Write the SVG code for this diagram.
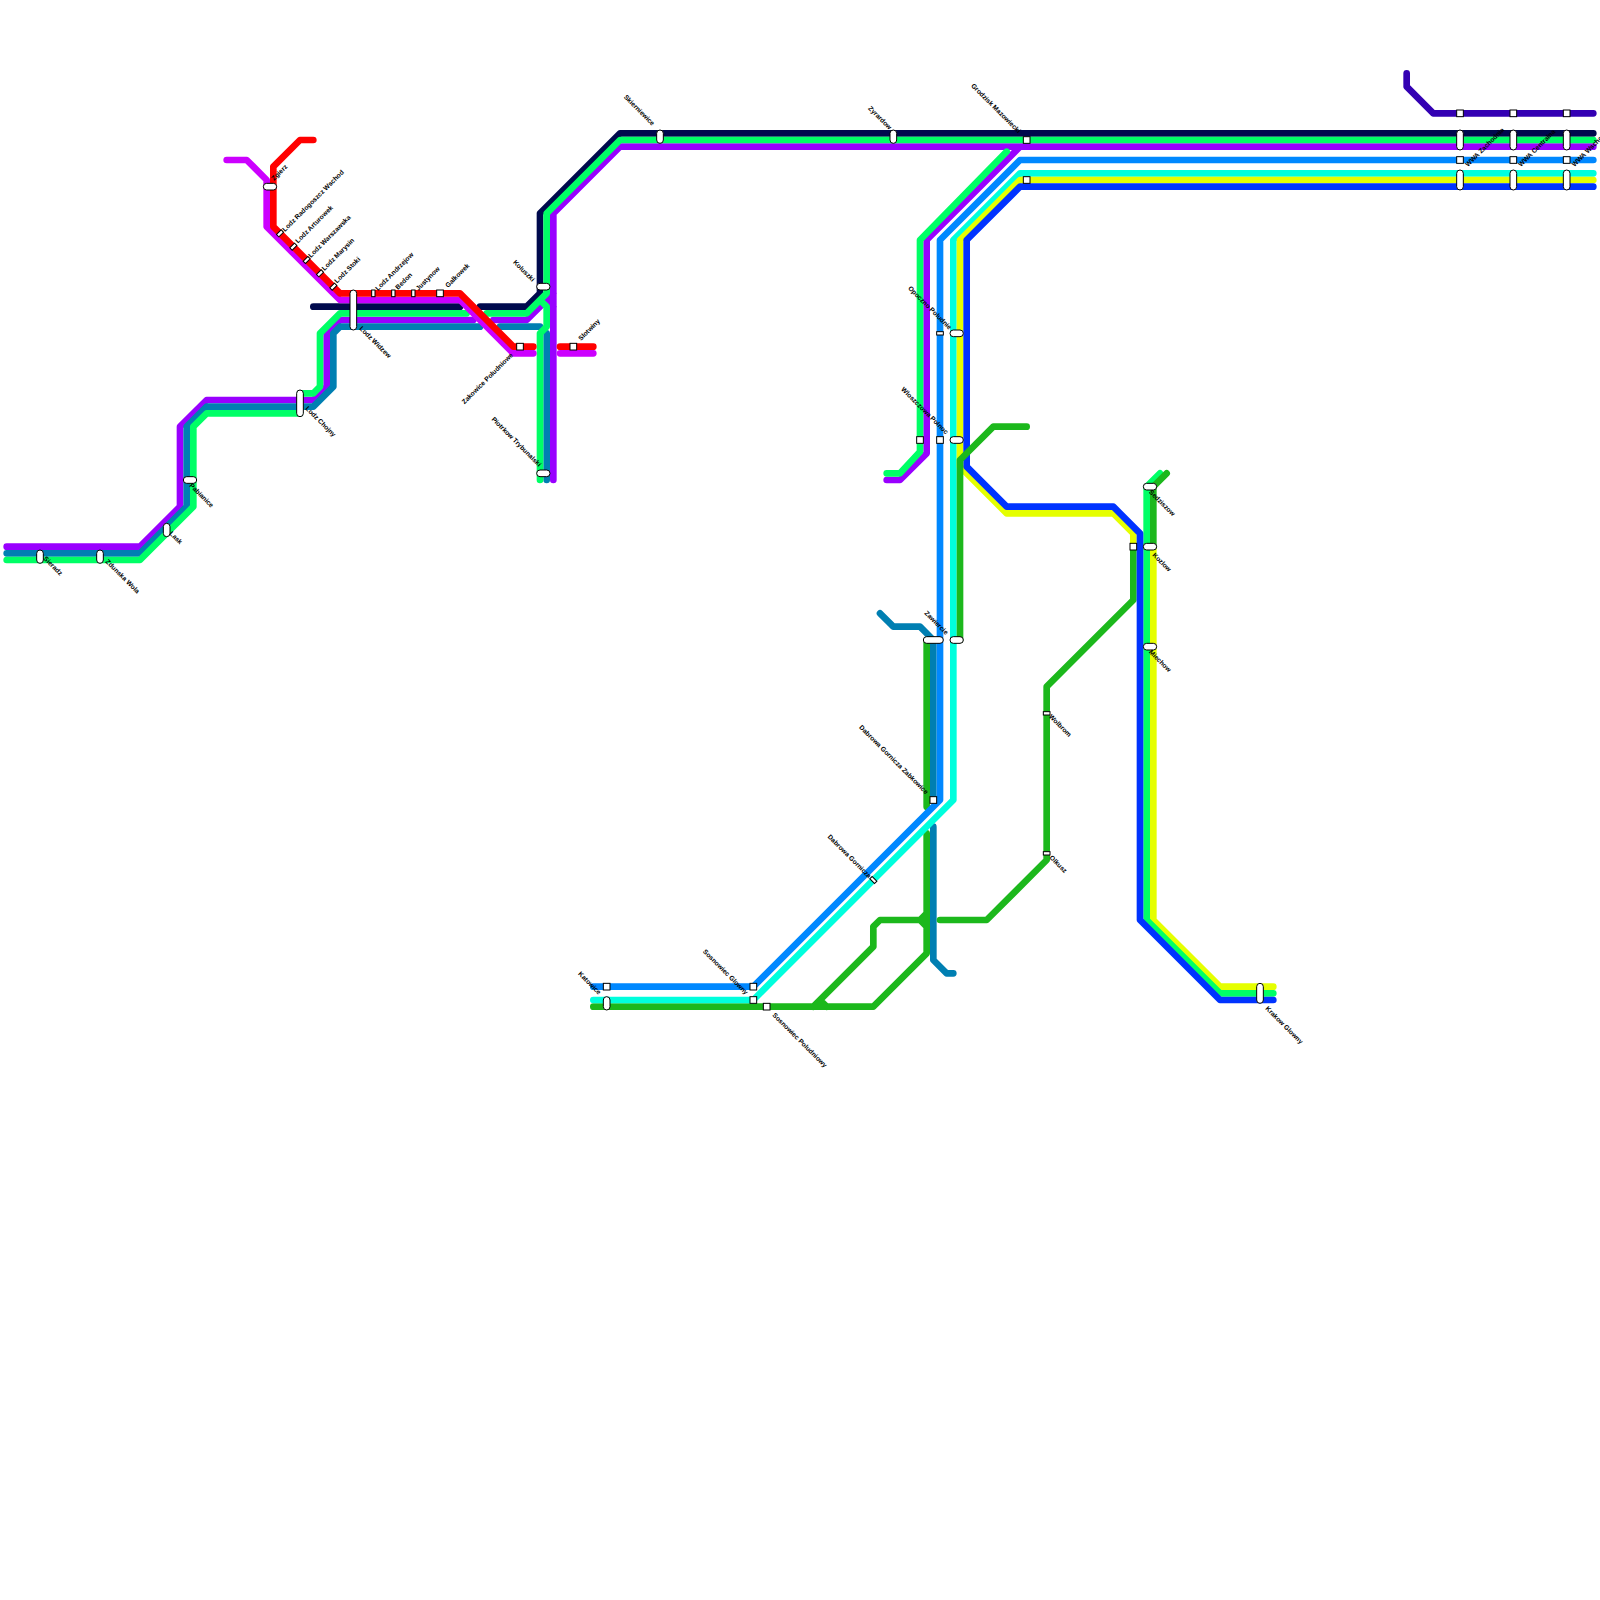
<svg xmlns="http://www.w3.org/2000/svg" width="1600" height="1600" viewBox="0 0 1600 1600">
<style>
.l{fill:none;stroke-width:6.67;stroke-linecap:round;stroke-linejoin:round}
.pu{stroke:#9900ff}.te{stroke:#007fb2}.gr{stroke:#00ff66}.na{stroke:#000a4d}.lp{stroke:#cc00ff}.re{stroke:#ff0000}
.bl{stroke:#0088ff}.aq{stroke:#00ffdd}.ye{stroke:#e5ff00}.sb{stroke:#0033ff}.dg{stroke:#1cb81c}.in{stroke:#3300b3}.mg{stroke:#0080b0}
.s{fill:#fff;stroke:#000;stroke-width:1}
text{font-family:"Liberation Sans",Arial,sans-serif;font-size:6.67px;font-weight:bold;fill:#000}
.e{text-anchor:end}
</style>
<g id="connectors">
<path class="l na" d="M313.33 306.67H460M480 306.67H526.67L540 293.33V213.33L620 133.33H1593.33"/>
<path class="l pu" d="M1593.33 146.67H620L553.33 213.33V480M6.67 546.67H140L180 506.67V426.67L206.67 400H313.33L326.67 386.67V333.33L340 320H473.33M493.33 320H526.67L553.33 293.33M546.67 300L553.33 306.67M1020 146.67L926.67 240V453.33L900 480H886.67"/>
<path class="l te" d="M6.67 553.33H140L186.67 506.67V426.67L206.67 406.67H313.33L333.33 386.67V333.33L340 326.67H480M500 326.67H540M546.67 333.33V480"/>
<path class="l gr" d="M6.67 560H140L193.33 506.67V426.67L206.67 413.33H300M300 393.33H313.33L320 386.67V333.33L340 313.33H466.67M486.67 313.33H526.67L546.67 293.33V213.33L620 140H1593.33M540 480V333.33L546.67 326.67V306.67L540 300M1006.67 151.67L920 240V451.67L900 473.33H886.67"/>
<path class="l lp" d="M226.67 160H246.67L266.67 180V226.67L340 300H460L513.33 353.33H533.33M560 353.33H593.33"/>
<path class="l re" d="M313.33 140H300L273.33 166.67V226.67L340 293.33H460L513.33 346.67H533.33M560 346.67H593.33"/>
<path class="l in" d="M1406.67 73.33V86.67L1433.33 113.33H1593.33"/>
<path class="l te" d="M880 613.33L893.33 626.67H920L933.33 640V800M933.33 826.67V960L946.67 973.33H953.33"/>
<path class="l dg" d="M926.67 640V806.67M926.67 833.33V953.33L873.33 1006.67H593.33M926.67 913.33L920 920L926.67 926.67M920 920H880L873.33 926.67V946.67L813.33 1006.67M820 1000L826.67 1006.67M940 920H986.67L1046.67 860V686.67L1133.33 600V546.67"/>
<path class="l bl" d="M593.33 986.67H753.33L940 800V240L1020 160H1593.33"/>
<path class="l aq" d="M593.33 1000H753.33L953.33 800V240L1020 173.33H1593.33"/>
<path class="l ye" d="M1593.33 180H1020L960 240V466.67L1006.67 513.33H1113.33L1133.33 533.33V546.67H1153.33V920L1220 986.67H1273.33"/>
<path class="l gr" d="M1160 473.33L1146.67 486.67V920L1220 993.33H1273.33"/>
<path class="l sb" d="M1593.33 186.67H1020L966.67 240V466.67L1006.67 506.67H1113.33L1140 533.33V920L1220 1000H1273.33"/>
<path class="l dg" d="M1166.67 473.33L1153.33 486.67V546.67M1026.67 426.67H993.33L960 460V640"/>
</g>
<g id="stations">
<g id="sieradz"><rect class="s" x="36.67" y="550" width="6.67" height="13.33" rx="3.33"/><text transform="translate(43 559) rotate(45)">Sieradz</text></g>
<g id="zdunska-wola"><rect class="s" x="96.67" y="550" width="6.67" height="13.33" rx="3.33"/><text transform="translate(105 562) rotate(45)">Zdunska Wola</text></g>
<g id="lask"><rect class="s" x="163.33" y="523.33" width="6.67" height="13.33" rx="3.33"/><text transform="translate(169 534) rotate(45)">Lask</text></g>
<g id="pabianice"><rect class="s" x="183.33" y="476.67" width="13.33" height="6.67" rx="3.33"/><text transform="translate(189 486) rotate(45)">Pabianice</text></g>
<g id="lodz-chojny"><rect class="s" x="296.67" y="390" width="6.67" height="26.67" rx="3.33"/><text transform="translate(305 409) rotate(45)">Lodz Chojny</text></g>
<g id="lodz-widzew"><rect class="s" x="350" y="290" width="6.67" height="40" rx="3.33"/><text transform="translate(359 329) rotate(45)">Lodz Widzew</text></g>
<g id="zgierz"><rect class="s" x="263.33" y="183.33" width="13.33" height="6.67" rx="3.33"/><text transform="translate(274 181) rotate(-45)">Zgierz</text></g>
<g id="lodz-radogoszcz"><rect class="s" x="278.33" y="230" width="3.33" height="6.67" transform="rotate(45 280 233.33)"/><text transform="translate(285 232) rotate(-45)">Lodz Radogoszcz Wschod</text></g>
<g id="lodz-arturowek"><rect class="s" x="291.67" y="243.33" width="3.33" height="6.67" transform="rotate(45 293.33 246.67)"/><text transform="translate(298 243.5) rotate(-45)">Lodz Arturowek</text></g>
<g id="lodz-warszawska"><rect class="s" x="305" y="256.67" width="3.33" height="6.67" transform="rotate(45 306.67 260)"/><text transform="translate(311 258) rotate(-45)">Lodz Warszawska</text></g>
<g id="lodz-marysin"><rect class="s" x="318.33" y="270" width="3.33" height="6.67" transform="rotate(45 320 273.33)"/><text transform="translate(324.5 271) rotate(-45)">Lodz Marysin</text></g>
<g id="lodz-stoki"><rect class="s" x="331.67" y="283.33" width="3.33" height="6.67" transform="rotate(45 333.33 286.67)"/><text transform="translate(337 283.5) rotate(-45)">Lodz Stoki</text></g>
<g id="lodz-andrzejow"><rect class="s" x="371.67" y="290" width="3.33" height="6.67"/><text transform="translate(378 291) rotate(-45)">Lodz Andrzejow</text></g>
<g id="bedon"><rect class="s" x="391.67" y="290" width="3.33" height="6.67"/><text transform="translate(398 290) rotate(-45)">Bedon</text></g>
<g id="justynow"><rect class="s" x="411.67" y="290" width="3.33" height="6.67"/><text transform="translate(418.5 291) rotate(-45)">Justynow</text></g>
<g id="galkowek"><rect class="s" x="436.67" y="290" width="6.67" height="6.67"/><text transform="translate(448 288) rotate(-45)">Galkowek</text></g>
<g id="zakowice"><rect class="s" x="516.67" y="343.33" width="6.67" height="6.67"/><text transform="translate(464.5 404.5) rotate(-45)">Zakowice Poludniowe</text></g>
<g id="slotwiny"><rect class="s" x="570" y="343.33" width="6.67" height="6.67"/><text transform="translate(581 341) rotate(-45)">Slotwiny</text></g>
<g id="koluszki"><rect class="s" x="536.67" y="283.33" width="13.33" height="6.67" rx="3.33"/><text class="e" transform="translate(532 282) rotate(45)">Koluszki</text></g>
<g id="piotrkow"><rect class="s" x="536.67" y="470" width="13.33" height="6.67" rx="3.33"/><text class="e" transform="translate(538.5 467) rotate(45)">Piotrkow Trybunalski</text></g>
<g id="skierniewice"><rect class="s" x="656.67" y="130" width="6.67" height="13.33" rx="3.33"/><text class="e" transform="translate(652 126) rotate(45)">Skierniewice</text></g>
<g id="zyrardow"><rect class="s" x="890" y="130" width="6.67" height="13.33" rx="3.33"/><text class="e" transform="translate(889 130) rotate(45)">Zyrardow</text></g>
<g id="grodzisk"><rect class="s" x="1023.33" y="136.67" width="6.67" height="6.67"/><rect class="s" x="1023.33" y="176.67" width="6.67" height="6.67"/><text class="e" transform="translate(1018 133.5) rotate(45)">Grodzisk Mazowiecki</text></g>
<g id="wwa-zachodnia"><rect class="s" x="1456.67" y="110" width="6.67" height="6.67"/><rect class="s" x="1456.67" y="130" width="6.67" height="20" rx="3.33"/><rect class="s" x="1456.67" y="156.67" width="6.67" height="6.67"/><rect class="s" x="1456.67" y="170" width="6.67" height="20" rx="3.33"/><text transform="translate(1468 167) rotate(-45)">WWA Zachodnia</text></g>
<g id="wwa-centralna"><rect class="s" x="1510" y="110" width="6.67" height="6.67"/><rect class="s" x="1510" y="130" width="6.67" height="20" rx="3.33"/><rect class="s" x="1510" y="156.67" width="6.67" height="6.67"/><rect class="s" x="1510" y="170" width="6.67" height="20" rx="3.33"/><text transform="translate(1521 167) rotate(-45)">WWA Centralna</text></g>
<g id="wwa-wschodnia"><rect class="s" x="1563.33" y="110" width="6.67" height="6.67"/><rect class="s" x="1563.33" y="130" width="6.67" height="20" rx="3.33"/><rect class="s" x="1563.33" y="156.67" width="6.67" height="6.67"/><rect class="s" x="1563.33" y="170" width="6.67" height="20" rx="3.33"/><text transform="translate(1574.5 167) rotate(-45)">WWA Wschodnia</text></g>
<g id="opoczno"><rect class="s" x="936.67" y="331.67" width="6.67" height="3.33"/><rect class="s" x="950" y="330" width="13.33" height="6.67" rx="3.33"/><text class="e" transform="translate(949 330) rotate(45)">Opoczno Poludnie</text></g>
<g id="wloszczowa"><rect class="s" x="916.67" y="436.67" width="6.67" height="6.67"/><rect class="s" x="936.67" y="436.67" width="6.67" height="6.67"/><rect class="s" x="950" y="436.67" width="13.33" height="6.67" rx="3.33"/><text class="e" transform="translate(945.5 434.5) rotate(45)">Wloszczowa Polnoc</text></g>
<g id="zawiercie"><rect class="s" x="923.33" y="636.67" width="20" height="6.67" rx="3.33"/><rect class="s" x="950" y="636.67" width="13.33" height="6.67" rx="3.33"/><text class="e" transform="translate(945.5 635) rotate(45)">Zawiercie</text></g>
<g id="dabrowa-zabkowice"><rect class="s" x="930" y="796.67" width="6.67" height="6.67"/><text class="e" transform="translate(925.5 794.5) rotate(45)">Dabrowa Gornicza Zabkowice</text></g>
<g id="dabrowa"><rect class="s" x="871.67" y="876.67" width="3.33" height="6.67" transform="rotate(-45 873.33 880)"/><text class="e" transform="translate(868.5 878.5) rotate(45)">Dabrowa Gornicza</text></g>
<g id="sosnowiec-glowny"><rect class="s" x="750" y="983.33" width="6.67" height="6.67"/><rect class="s" x="750" y="996.67" width="6.67" height="6.67"/><text class="e" transform="translate(745.5 995) rotate(45)">Sosnowiec Glowny</text></g>
<g id="sosnowiec-poludniowy"><rect class="s" x="763.33" y="1003.33" width="6.67" height="6.67"/><text transform="translate(772 1015.5) rotate(45)">Sosnowiec Poludniowy</text></g>
<g id="katowice"><rect class="s" x="603.33" y="983.33" width="6.67" height="6.67"/><rect class="s" x="603.33" y="996.67" width="6.67" height="13.33" rx="3.33"/><text class="e" transform="translate(598.5 995) rotate(45)">Katowice</text></g>
<g id="krakow"><rect class="s" x="1256.67" y="983.33" width="6.67" height="20" rx="3.33"/><text transform="translate(1265 1009) rotate(45)">Krakow Glowny</text></g>
<g id="sedziszow"><rect class="s" x="1143.33" y="483.33" width="13.33" height="6.67" rx="3.33"/><text transform="translate(1148.5 492.5) rotate(45)">Sedziszow</text></g>
<g id="kozlow"><rect class="s" x="1130" y="543.33" width="6.67" height="6.67"/><rect class="s" x="1143.33" y="543.33" width="13.33" height="6.67" rx="3.33"/><text transform="translate(1152 555.5) rotate(45)">Kozlow</text></g>
<g id="miechow"><rect class="s" x="1143.33" y="643.33" width="13.33" height="6.67" rx="3.33"/><text transform="translate(1148.5 652.5) rotate(45)">Miechow</text></g>
<g id="wolbrom"><rect class="s" x="1043.33" y="711.67" width="6.67" height="3.33"/><text transform="translate(1048.5 717) rotate(45)">Wolbrom</text></g>
<g id="olkusz"><rect class="s" x="1043.33" y="851.67" width="6.67" height="3.33"/><text transform="translate(1049 858) rotate(45)">Olkusz</text></g>
</g>
</svg>
